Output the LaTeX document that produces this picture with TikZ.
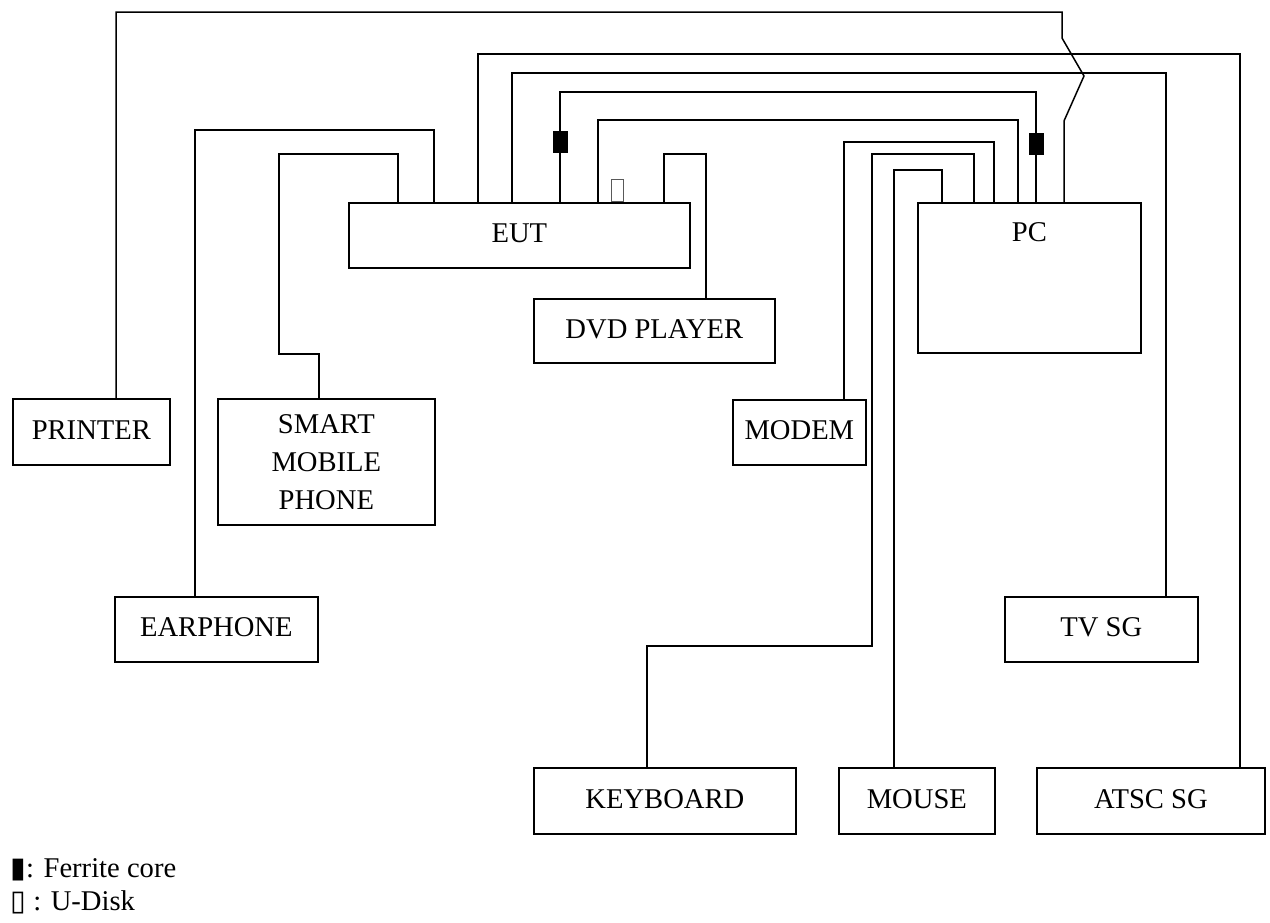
\documentclass[tikz,border=0pt]{standalone}
\usepackage{fontspec}
\setmainfont{Liberation Serif}
\newfontfamily\dejavu{DejaVu Sans}
\usetikzlibrary{calc}
\begin{document}
\begin{tikzpicture}[x=0.5pt,y=-0.5pt,
  lbl/.style={font=\fontsize{14.3}{19}\selectfont},
  box/.style={lbl, draw, line width=0.85pt, anchor=north west, inner sep=0pt, align=center, text depth=0.2em},
  wire/.style={line width=0.75pt},
  ferrite/.style={fill=black, draw=black, line width=0.4pt, inner sep=0pt, minimum width=7pt, minimum height=10.5pt},
  udisk/.style={draw=black!65, line width=0.5pt, fill=white, inner sep=0pt, minimum width=6pt, minimum height=11pt, anchor=south}]
\useasboundingbox (0,0) rectangle (1270,922);

% boxes
\node[box, minimum width=78.5pt, minimum height=33pt] (printer) at (12,398) {PRINTER};
\node[box, minimum width=108.5pt, minimum height=63pt, text depth=0pt] (phone) at (217,398) {SMART\\MOBILE\\PHONE};
\node[box, minimum width=101.5pt, minimum height=32.5pt] (earph) at (114,596) {EARPHONE};
\node[box, minimum width=170.5pt, minimum height=32.5pt] (eut) at (348,202) {EUT};
\node[box, minimum width=120.5pt, minimum height=32pt] (dvd) at (533,298) {DVD PLAYER};
\node[box, minimum width=111.5pt, minimum height=75pt, text depth=46pt] (pc) at (917,202) {PC};
\node[box, minimum width=66.5pt, minimum height=32.5pt] (modem) at (732,399) {MODEM};
\node[box, minimum width=131pt, minimum height=33pt] (kbd) at (533,767) {KEYBOARD};
\node[box, minimum width=78pt, minimum height=33pt] (mouse) at (838,767) {MOUSE};
\node[box, minimum width=96.5pt, minimum height=32.5pt] (tvsg) at (1004,596) {TV SG};
\node[box, minimum width=114pt, minimum height=33pt] (atsc) at (1036,767) {ATSC SG};

% connectors
\draw[wire] ($(printer.north west)+(104,0)$) -- ++(0,-386) -- ++(946,0) -- ++(0,26) -- ++(22,38) -- ++(-20,45) -- ($(pc.north west)+(147,0)$);
\draw[wire] ($(earph.north west)+(81,0)$) -- ++(0,-466) -| ($(eut.north west)+(86,0)$);
\draw[wire] ($(phone.north west)+(102,0)$) -- ++(0,-44) -- ++(-40,0) -- ++(0,-200) -| ($(eut.north west)+(50,0)$);
\draw[wire] ($(eut.north west)+(130,0)$) -- ++(0,-148) -| ($(atsc.north west)+(204,0)$);
\draw[wire] ($(eut.north west)+(164,0)$) -- ++(0,-129) -| ($(tvsg.north west)+(162,0)$);
\draw[wire] ($(eut.north west)+(212,0)$) -- ++(0,-110) -| ($(pc.north west)+(119,0)$);
\draw[wire] ($(eut.north west)+(250,0)$) -- ++(0,-82) -| ($(pc.north west)+(101,0)$);
\draw[wire] ($(eut.north west)+(316,0)$) -- ++(0,-48) -| ($(dvd.north west)+(173,0)$);
\draw[wire] ($(modem.north west)+(112,0)$) -- ++(0,-257) -| ($(pc.north west)+(77,0)$);
\draw[wire] ($(kbd.north west)+(114,0)$) -- ++(0,-121) -- ++(225,0) -- ++(0,-492) -| ($(pc.north west)+(57,0)$);
\draw[wire] ($(mouse.north west)+(56,0)$) -- ++(0,-597) -| ($(pc.north west)+(25,0)$);

% ferrite cores and U-disk
\node[ferrite] (f1) at (560,141.5) {};
\node[ferrite] (f2) at (1036,143.5) {};
\node[udisk] (ud) at ($(eut.north west)+(269,0)$) {};

% legend
\node[lbl, anchor=base west, inner sep=0pt] (leg1) at (10,877) {{\dejavu ▮}: Ferrite core};
\node[lbl, anchor=base west, inner sep=0pt] (leg2) at (10,910) {{\dejavu ▯} : U-Disk};
\end{tikzpicture}
\end{document}
